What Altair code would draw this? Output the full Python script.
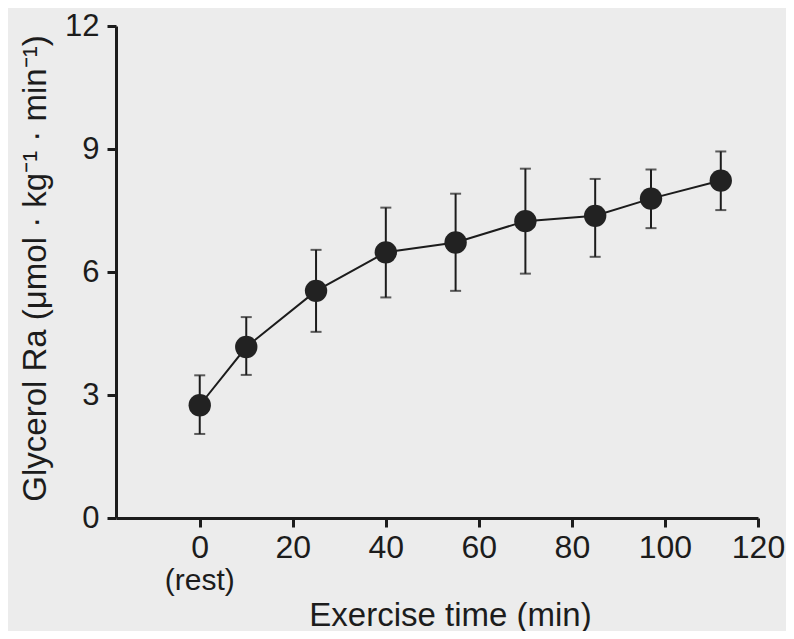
import altair as alt
import pandas as pd

# Data
times = [0, 10, 25, 40, 55, 70, 85, 97, 112]
glycerol_ra = [2.75, 4.17, 5.54, 6.48, 6.72, 7.24, 7.37, 7.79, 8.23]
err_low = [2.05, 3.49, 4.54, 5.38, 5.54, 5.96, 6.37, 7.07, 7.51]
err_high = [3.48, 4.90, 6.54, 7.57, 7.91, 8.52, 8.27, 8.50, 8.94]
x_ticks = [0, 20, 40, 60, 80, 100, 120]
y_ticks = [0, 3, 6, 9, 12]
rest_label = ["(rest)"]

df = pd.DataFrame({"t": times, "ra": glycerol_ra, "lo": err_low, "hi": err_high})
rest_df = pd.DataFrame({"t": [0], "label": rest_label})

INK = "#1c1c1c"
FONT = "Liberation Sans"

x_enc = alt.X(
    "t:Q",
    scale=alt.Scale(domain=[-18, 120], nice=False, zero=False),
    axis=alt.Axis(
        values=x_ticks,
        title="Exercise time (min)",
        titleX=334,
        titleY=97,
        titleAlign="center",
        titleBaseline="middle",
        labelFontSize=32,
        labelPadding=5,
    ),
)
y_enc = alt.Y(
    "ra:Q",
    scale=alt.Scale(domain=[0, 12], nice=False),
    axis=alt.Axis(
        values=y_ticks,
        title="Glycerol Ra (μmol · kg⁻¹ · min⁻¹)",
        titleX=-81,
        titleY=242,
        titleAngle=-90,
        titleAlign="center",
        titleBaseline="middle",
        labelFontSize=31,
        labelPadding=8,
    ),
)

base = alt.Chart(df)

line = base.mark_line(color=INK, strokeWidth=2).encode(x=x_enc, y=y_enc)
bars = base.mark_rule(color=INK, strokeWidth=2).encode(x="t:Q", y="lo:Q", y2="hi:Q")
cap_lo = base.mark_tick(color=INK, orient="horizontal", size=11, thickness=2).encode(x="t:Q", y="lo:Q")
cap_hi = base.mark_tick(color=INK, orient="horizontal", size=11, thickness=2).encode(x="t:Q", y="hi:Q")
pts = base.mark_circle(color="#222222", opacity=1, size=500).encode(x="t:Q", y="ra:Q")
rest = alt.Chart(rest_df).mark_text(
    font=FONT, fontSize=30, color=INK, baseline="middle", align="center", clip=False
).encode(x="t:Q", y=alt.value(555), text="label:N")

chart = (
    alt.layer(line, bars, cap_lo, cap_hi, pts, rest)
    .properties(
        width=642,
        height=492,
        autosize=alt.AutoSizeParams(type="none"),
        padding={"left": 108, "top": 18, "right": 28, "bottom": 113},
        background="#ececec",
    )
    .configure_view(stroke=None)
    .configure_axis(
        grid=False,
        domainColor=INK,
        domainWidth=3,
        tickColor=INK,
        tickWidth=3,
        tickSize=9,
        labelFont=FONT,
        labelColor=INK,
        titleFont=FONT,
        titleFontSize=33,
        titleFontWeight="normal",
        titleColor=INK,
        labelFlush=False,
        labelOverlap=False,
    )
)

chart.save("out.html", embed_options={"renderer": "svg", "actions": False})
